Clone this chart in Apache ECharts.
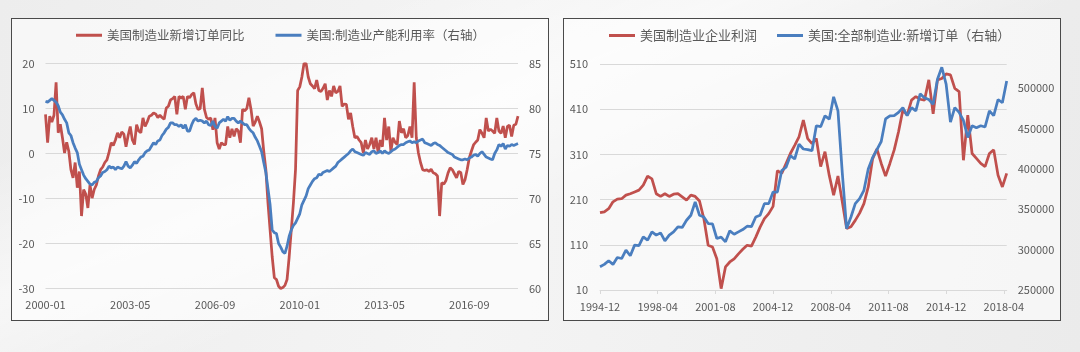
<!DOCTYPE html>
<html>
<head>
<meta charset="utf-8">
<title>美国制造业</title>
<script src="https://cdn.jsdelivr.net/npm/echarts@6/dist/echarts.min.js"></script>
<style>
    html, body { margin: 0; padding: 0; width: 1080px; height: 352px; overflow: hidden; }
    body {
        position: relative;
        background:
            linear-gradient(158deg, rgba(255,255,255,0) 20%, rgba(255,255,255,0.55) 38%, rgba(255,255,255,0) 55%),
            linear-gradient(100deg, #ededed 0%, #f4f4f4 45%, #ebebeb 100%);
    }
    .panel {
        position: absolute; top: 18px; height: 303px; box-sizing: border-box;
        border: 1.5px solid #4a4a4a; background: rgba(255,255,255,0.55);
    }
    .chart { position: absolute; top: 18px; height: 303px; }
    #left-box, #left-chart { left: 11px; width: 538px; }
    #right-box, #right-chart { left: 563px; width: 498px; }
</style>
</head>
<body>
<div class="panel" id="left-box"></div>
<div class="panel" id="right-box"></div>
<div class="chart" id="left-chart"></div>
<div class="chart" id="right-chart"></div>
<script>
// ===== 左图：新增订单同比（月度，2000-01 起） / 产能利用率 =====
var leftStart = [2000, 1];
var ordersYoY = [
    8.7, 2.4, 8.3, 7, 8.5, 15.8, 4.6, 6.5, 3.5, 0.1, 2.5, 0.5,
    -3.6, -5.4, -2, -7.6, -4, -13.9, -8, -9, -12.1, -7, -9.9, -8,
    -7, -5, -3.6, -3, -2, -1.4, 0.3, 2.4, 1.8, 3, 4.6, 3.5,
    4.8, 4.3, 1.5, 4, 6, 3, 2, 6.4, 5, 4.6, 7.9, 6,
    7, 8.3, 8.5, 9, 8.8, 8, 8.5, 8, 7.6, 10.1, 10.5, 11.9,
    12.2, 12.7, 8.7, 12.7, 12.3, 12.7, 9.8, 12.7, 12.4, 13.1, 13.5, 11,
    9.8, 10, 14.6, 9.8, 8, 7.6, 7.9, 5.3, 7.9, 2.4, 1, 2.4,
    2, 2, 6, 3.5, 5.5, 3.8, 5.5, 5, 2.4, 9.8, 9.5, 10,
    12.4, 9.8, 6.1, 7, 8.3, 7, 5.5, 0.5, -3.6, -11, -17, -23,
    -27.6, -28, -29.5, -30, -29.8, -29.3, -28, -23, -17, -11, -3.6, 14,
    14.8, 17, 20, 20, 17, 15.5, 15, 14.4, 16.3, 14, 13.8, 14.5,
    15.5, 11.9, 14, 12.7, 15, 13.5, 13.8, 15, 10.5, 11, 10.9, 7.6,
    9, 6, 3.5, 3.8, 3, 2.4, 0.1, 3, 1, 2, 3.5, 1,
    3.5, 0.1, 3, 1.5, 7.9, 3, 6, 0.5, 3.5, 2.5, 2, 7.2,
    4.6, 5.5, 3.5, 4, 6, 3.5, 15.8, 3.5, 0.1, -2, -3.6, -3.8,
    -3.6, -4, -3.5, -4.3, -4.5, -5, -13.9, -6.5, -6.8, -6, -4.3, -3.2,
    -3.6, -4.5, -5.4, -4, -4.2, -6.9, -5.8, -3.6, -1, 0.5, 1.9, 2.5,
    3, 5.3, 4.5, 3.5, 7.9, 5, 5.4, 5, 4.5, 7.9, 5, 4.5,
    6.1, 3.5, 6, 6.3, 3.8, 6.3, 6.5, 8.3
];
var capUtil = [
    80.8, 80.7, 80.9, 81.1, 80.9, 80.7, 80.3, 79.6, 79.3, 78.8, 78.4, 77.3,
    77.0, 76.2, 75.6, 75.1, 73.8, 73.2, 72.6, 72.2, 71.9, 71.6, 71.5, 71.8,
    71.9, 72.3, 72.5, 72.9, 73.0, 73.2, 73.6, 73.4, 73.5, 73.2, 73.5, 73.4,
    73.3, 73.6, 74.1, 73.6, 73.4, 73.7, 74.1, 73.9, 74.3, 74.6, 74.7, 75.1,
    75.3, 75.4, 75.8, 76.2, 76.0, 76.4, 76.5, 77.0, 77.3, 77.7, 77.9, 78.4,
    78.4, 78.2, 78.2, 78.0, 78.2, 77.8, 78.2, 77.5, 77.5, 78.2, 78.7, 78.9,
    78.6, 78.7, 78.6, 78.4, 78.6, 78.2, 78.1, 78.6, 78.0, 77.8, 78.4, 78.6,
    78.8, 78.6, 79.1, 78.7, 78.9, 78.9, 78.6, 78.4, 78.6, 78.4, 78.2, 78.2,
    77.8, 77.5, 77.3, 76.8, 76.4, 75.8, 75.2, 74.0, 72.9, 71.1, 69.3, 66.5,
    66.2, 66.1, 65.0, 64.6, 64.1, 63.9, 64.7, 65.8, 66.5, 67.0, 67.3, 67.8,
    68.3, 69.3, 69.8, 70.3, 71.1, 71.5, 71.9, 72.2, 72.3, 72.7, 72.6, 72.9,
    73.0, 73.1, 73.0, 73.2, 73.4, 73.6, 74.0, 74.2, 74.4, 74.6, 74.8, 75.0,
    75.3, 75.5, 75.2, 75.1, 75.0, 74.9, 74.8, 75.1, 75.0, 74.9, 75.2, 75.3,
    75.0, 75.1, 75.3, 75.0, 75.3, 75.1, 75.0, 75.2, 75.4, 75.5, 75.7, 75.9,
    76.0, 76.0, 76.2, 76.3, 76.4, 76.2, 76.3, 76.2, 76.4, 76.5, 76.6, 76.2,
    76.1, 76.0, 75.9, 76.1, 76.2, 76.0, 75.9, 75.7, 75.5, 75.3, 75.1, 75.0,
    74.9, 74.6, 74.5, 74.4, 74.3, 74.3, 74.4, 74.3, 74.5, 74.6, 74.8, 74.9,
    74.7, 75.0, 75.2, 74.9, 74.6, 74.5, 74.4, 74.3, 75.0, 75.4, 76.0, 75.8,
    76.1, 75.5, 75.9, 75.8, 76.0, 75.9, 76.0, 76.1
];

// ===== 右图：企业利润 / 新增订单（季度，1994-12 起，月度坐标） =====
var rightStart = [1994, 12];
var rightMonths = 283;   // 1994-12 ~ 2018-06
var profits = [
    181, 183, 190, 205, 211, 212, 220, 223, 227, 231, 242, 262,
    256, 223, 217, 223, 217, 222, 223, 216, 209, 220, 217, 207,
    168, 109, 105, 79, 13, 61, 72, 79, 90, 100, 109, 107,
    127, 149, 168, 179, 195, 274, 268, 290, 312, 330, 349, 386,
    345, 334, 345, 283, 316, 263, 220, 262, 205, 146, 150, 164,
    180, 201, 238, 300, 322, 290, 262, 290, 320, 360, 408, 397,
    430, 438, 432, 430, 475, 400, 475, 478, 488, 486, 456, 449,
    297, 397, 312, 301, 290, 283, 312, 320, 264, 238, 268
];
var newOrders = [
    278800, 281700, 286200, 281700, 290300, 289000, 299400, 292400, 305600, 305000, 315800, 311700,
    322000, 318000, 320800, 310900, 318000, 322000, 328200, 327500, 336400, 342600, 359100, 342600,
    340500, 332300, 332000, 313800, 315500, 309700, 323300, 319100, 322000, 324900, 329000, 328500,
    340500, 342600, 357000, 357000, 371400, 371400, 398000, 402100, 416500, 412300, 430800, 424700,
    424000, 422600, 453500, 452300, 465800, 461700, 489300, 472000, 395000, 326100, 340500, 357000,
    363200, 373500, 400000, 414000, 424000, 434000, 462000, 465800, 466000, 470000, 476000, 466000,
    476000, 472000, 493000, 488000, 486000, 480000, 511000, 526000, 505000, 458000, 476000, 470000,
    460000, 439000, 453500, 451000, 453500, 452000, 472000, 466000, 486000, 482000, 509000
];

var RED = '#C0504D';
var BLUE = '#4A7EBF';
var TEXT = '#595959';
var GRID = '#d9d9d9';
var FONT = '"Noto Sans CJK SC", "Noto Sans", sans-serif';

function monthLabels(start, n) {
    var out = [];
    var y = start[0], m = start[1];
    for (var i = 0; i < n; i++) {
        out.push(y + '-' + (m < 10 ? '0' + m : m));
        m++;
        if (m > 12) { m = 1; y++; }
    }
    return out;
}

var leftCats = monthLabels(leftStart, ordersYoY.length);
var rightCats = monthLabels(rightStart, rightMonths);

// 季度值放到月度类目上，其余为空
function spread(values, n) {
    var out = [];
    for (var i = 0; i < n; i++) out.push(null);
    for (var k = 0; k < values.length; k++) out[k * 3] = values[k];
    return out;
}

function lineSeries(name, data, color, yIdx) {
    return {
        name: name, type: 'line', data: data, yAxisIndex: yIdx,
        showSymbol: false, symbol: 'none', connectNulls: true,
        lineStyle: { color: color, width: 2.75 },
        itemStyle: { color: color },
        emphasis: { disabled: true }
    };
}

function legend(left, gap, size) {
    return {
        left: left, top: 6, icon: 'rect', itemWidth: 26, itemHeight: 3, itemGap: gap,
        textStyle: { color: TEXT, fontSize: size, fontFamily: FONT }
    };
}

var labelStyle = { color: TEXT, fontSize: 11, fontFamily: FONT };

// ===== 左图 =====
var leftChart = echarts.init(document.getElementById('left-chart'));
leftChart.setOption({
    animation: false,
    backgroundColor: 'transparent',
    legend: legend(60, 31, 12.5),
    grid: { left: 34.5, top: 45.5, width: 472.5, height: 225 },
    xAxis: {
        type: 'category', data: leftCats, boundaryGap: false,
        axisLine: { show: false },
        axisTick: { show: false },
        axisLabel: Object.assign({ interval: 39, margin: 11 }, labelStyle)
    },
    yAxis: [
        {
            type: 'value', min: -30, max: 20, interval: 10,
            axisLine: { show: false }, axisTick: { show: false },
            axisLabel: Object.assign({ margin: 11 }, labelStyle),
            splitLine: { lineStyle: { color: GRID, width: 1 } }
        },
        {
            type: 'value', min: 60, max: 85, interval: 5,
            axisLine: { show: false }, axisTick: { show: false },
            axisLabel: Object.assign({ margin: 11 }, labelStyle),
            splitLine: { show: false }
        }
    ],
    series: [
        lineSeries('美国制造业新增订单同比', ordersYoY, RED, 0),
        lineSeries('美国:制造业产能利用率（右轴）', capUtil, BLUE, 1)
    ]
});

// ===== 右图 =====
var rightChart = echarts.init(document.getElementById('right-chart'));
rightChart.setOption({
    animation: false,
    backgroundColor: 'transparent',
    legend: legend(41, 20, 13),
    grid: { left: 37, top: 46, width: 406.7, height: 226 },
    xAxis: {
        type: 'category', data: rightCats, boundaryGap: false,
        axisLine: { lineStyle: { color: GRID } },
        axisTick: { show: true, interval: 39, length: 4, lineStyle: { color: GRID } },
        axisLabel: Object.assign({ interval: 39, margin: 11 }, labelStyle)
    },
    yAxis: [
        {
            type: 'value', min: 10, max: 510, interval: 100,
            axisLine: { show: false }, axisTick: { show: false },
            axisLabel: Object.assign({ margin: 12 }, labelStyle),
            splitLine: { lineStyle: { color: GRID, width: 1 } }
        },
        {
            type: 'value', min: 250000, max: 530000, interval: 50000,
            axisLine: { show: false }, axisTick: { show: false },
            axisLabel: Object.assign({
                margin: 11, showMaxLabel: false,
                formatter: function (v) { return String(v); }
            }, labelStyle),
            splitLine: { show: false }
        }
    ],
    series: [
        lineSeries('美国制造业企业利润', spread(profits, rightMonths), RED, 0),
        lineSeries('美国:全部制造业:新增订单（右轴）', spread(newOrders, rightMonths), BLUE, 1)
    ]
});
</script>
</body>
</html>
